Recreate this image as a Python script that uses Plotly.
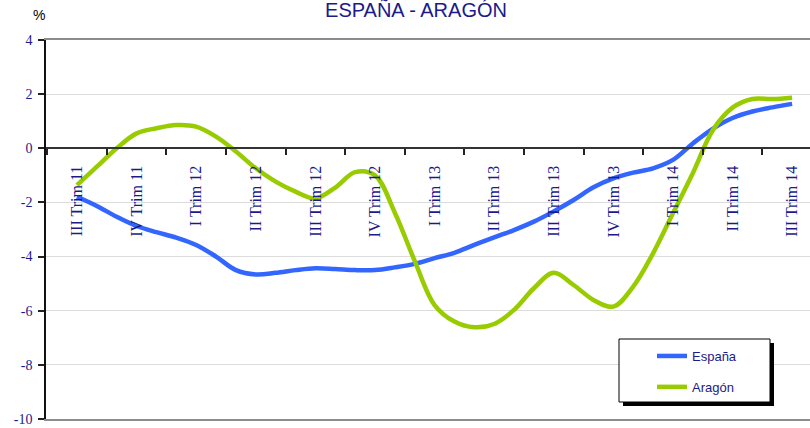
import plotly.graph_objects as go

# Quarter category labels
quarters = ["III Trim 11", "IV Trim 11", "I Trim 12", "II Trim 12", "III Trim 12",
            "IV Trim 12", "I Trim 13", "II Trim 13", "III Trim 13", "IV Trim 13",
            "I Trim 14", "II Trim 14", "III Trim 14"]

# Y tick values / labels (plain hyphen as in the original)
y_ticks = [-10, -8, -6, -4, -2, 0, 2, 4]
y_tick_labels = ["-10", "-8", "-6", "-4", "-2", "0", "2", "4"]

# Monthly values (3 per quarter), from III Trim 11 to III Trim 14
espana = [-1.79, -2.13, -2.53, -2.87, -3.10, -3.30, -3.57, -4.00, -4.50, -4.66,
          -4.60, -4.50, -4.43, -4.46, -4.50, -4.50, -4.40, -4.27, -4.06, -3.86,
          -3.57, -3.29, -3.02, -2.71, -2.33, -1.91, -1.44, -1.11, -0.90, -0.74,
          -0.43, 0.18, 0.72, 1.12, 1.36, 1.51, 1.64]
aragon = [-1.36, -0.68, 0.00, 0.55, 0.74, 0.86, 0.80, 0.43, -0.12, -0.74,
          -1.23, -1.60, -1.85, -1.45, -0.88, -1.00, -2.38, -4.16, -5.79, -6.40,
          -6.61, -6.49, -5.97, -5.17, -4.60, -5.05, -5.60, -5.85, -5.11, -3.88,
          -2.40, -0.92, 0.66, 1.50, 1.82, 1.82, 1.87]

x_month = [k / 3 for k in range(len(espana))]
x_quarter = list(range(len(quarters)))

NAVY = "#1a1a8a"
W, H = 810, 428
ML, MR, MT, MB = 46, 0, 40, 9
pw, ph = W - ML - MR, H - MT - MB

def px_x(p):
    return (p - ML) / pw

def px_y(p):
    return (H - MB - p) / ph

fig = go.Figure()
fig.add_trace(go.Scatter(x=x_month, y=espana, mode="lines", name="España",
                         line=dict(color="#3366FF", width=4.5, shape="spline", smoothing=1),
                         legendgroup="a", xaxis="x", yaxis="y"))
fig.add_trace(go.Scatter(x=x_month, y=aragon, mode="lines", name="Aragón",
                         line=dict(color="#99CC00", width=4.5, shape="spline", smoothing=1),
                         legendgroup="b", xaxis="x", yaxis="y"))
# dummy trace so xaxis2 (frame lines at top and bottom) is drawn
fig.add_trace(go.Scatter(x=[None], y=[None], xaxis="x2", yaxis="y", showlegend=False,
                         hoverinfo="skip"))

ymin, ymax = -10, 4
xr = [-0.52, 12.3]

fig.update_layout(
    width=W, height=H,
    margin=dict(l=ML, r=MR, t=MT, b=MB),
    paper_bgcolor="white", plot_bgcolor="white",
    showlegend=True,
    title=dict(text="ESPAÑA - ARAGÓN", x=px_x(416), xref="paper", xanchor="center",
               y=1 - 10 / H, yref="container", yanchor="middle",
               font=dict(family="Liberation Sans, Arial", size=20, color=NAVY)),
    xaxis=dict(range=xr, anchor="free", position=(0 - ymin) / (ymax - ymin),
               tickmode="array", tickvals=x_quarter, ticktext=quarters,
               tickangle=-90, ticks="", ticklabelstandoff=10,
               tickfont=dict(family="Liberation Serif, Times New Roman", size=16, color=NAVY),
               showline=True, linecolor="#333333", linewidth=2,
               showgrid=False, zeroline=False,
               minor=dict(tickmode="linear", tick0=0.5, dtick=1, ticks="outside",
                          ticklen=6, tickcolor="#222222", tickwidth=1.5, showgrid=False)),
    xaxis2=dict(range=xr, overlaying="x", anchor="y", showline=True, mirror=True,
                linecolor="#8c8c8c", linewidth=2, showticklabels=False, ticks="",
                showgrid=False, zeroline=False),
    yaxis=dict(range=[ymin, ymax], tickmode="array", tickvals=y_ticks,
               ticktext=y_tick_labels,
               ticks="outside", ticklen=6, tickcolor="#222222", tickwidth=1.5,
               showline=True, linecolor="#111111", linewidth=1.5,
               showgrid=True, gridcolor="#dcdcdc", gridwidth=1, zeroline=False,
               ticklabelstandoff=3,
               tickfont=dict(family="Liberation Serif, Times New Roman", size=14, color=NAVY)),
    legend=dict(x=px_x(652), y=px_y(341), xanchor="left", yanchor="top",
                bgcolor="rgba(0,0,0,0)", borderwidth=0,
                traceorder="grouped", tracegroupgap=11,
                font=dict(family="Liberation Sans, Arial", size=13, color=NAVY)),
    annotations=[dict(text="%", x=px_x(39), y=px_y(15), xref="paper", yref="paper",
                      showarrow=False, xanchor="center", yanchor="middle",
                      font=dict(family="Liberation Sans, Arial", size=14, color="black"))],
    shapes=[
        dict(type="rect", xref="paper", yref="paper", layer="above",
             x0=px_x(623), x1=px_x(774), y0=px_y(406), y1=px_y(343),
             fillcolor="black", line=dict(width=0)),
        dict(type="rect", xref="paper", yref="paper", layer="above",
             x0=px_x(619), x1=px_x(770), y0=px_y(402), y1=px_y(339),
             fillcolor="white", line=dict(color="black", width=1)),
    ],
)

fig.write_html("out.html", config={"displayModeBar": False},
               post_script="document.body.style.margin='0';document.body.style.padding='0';")
